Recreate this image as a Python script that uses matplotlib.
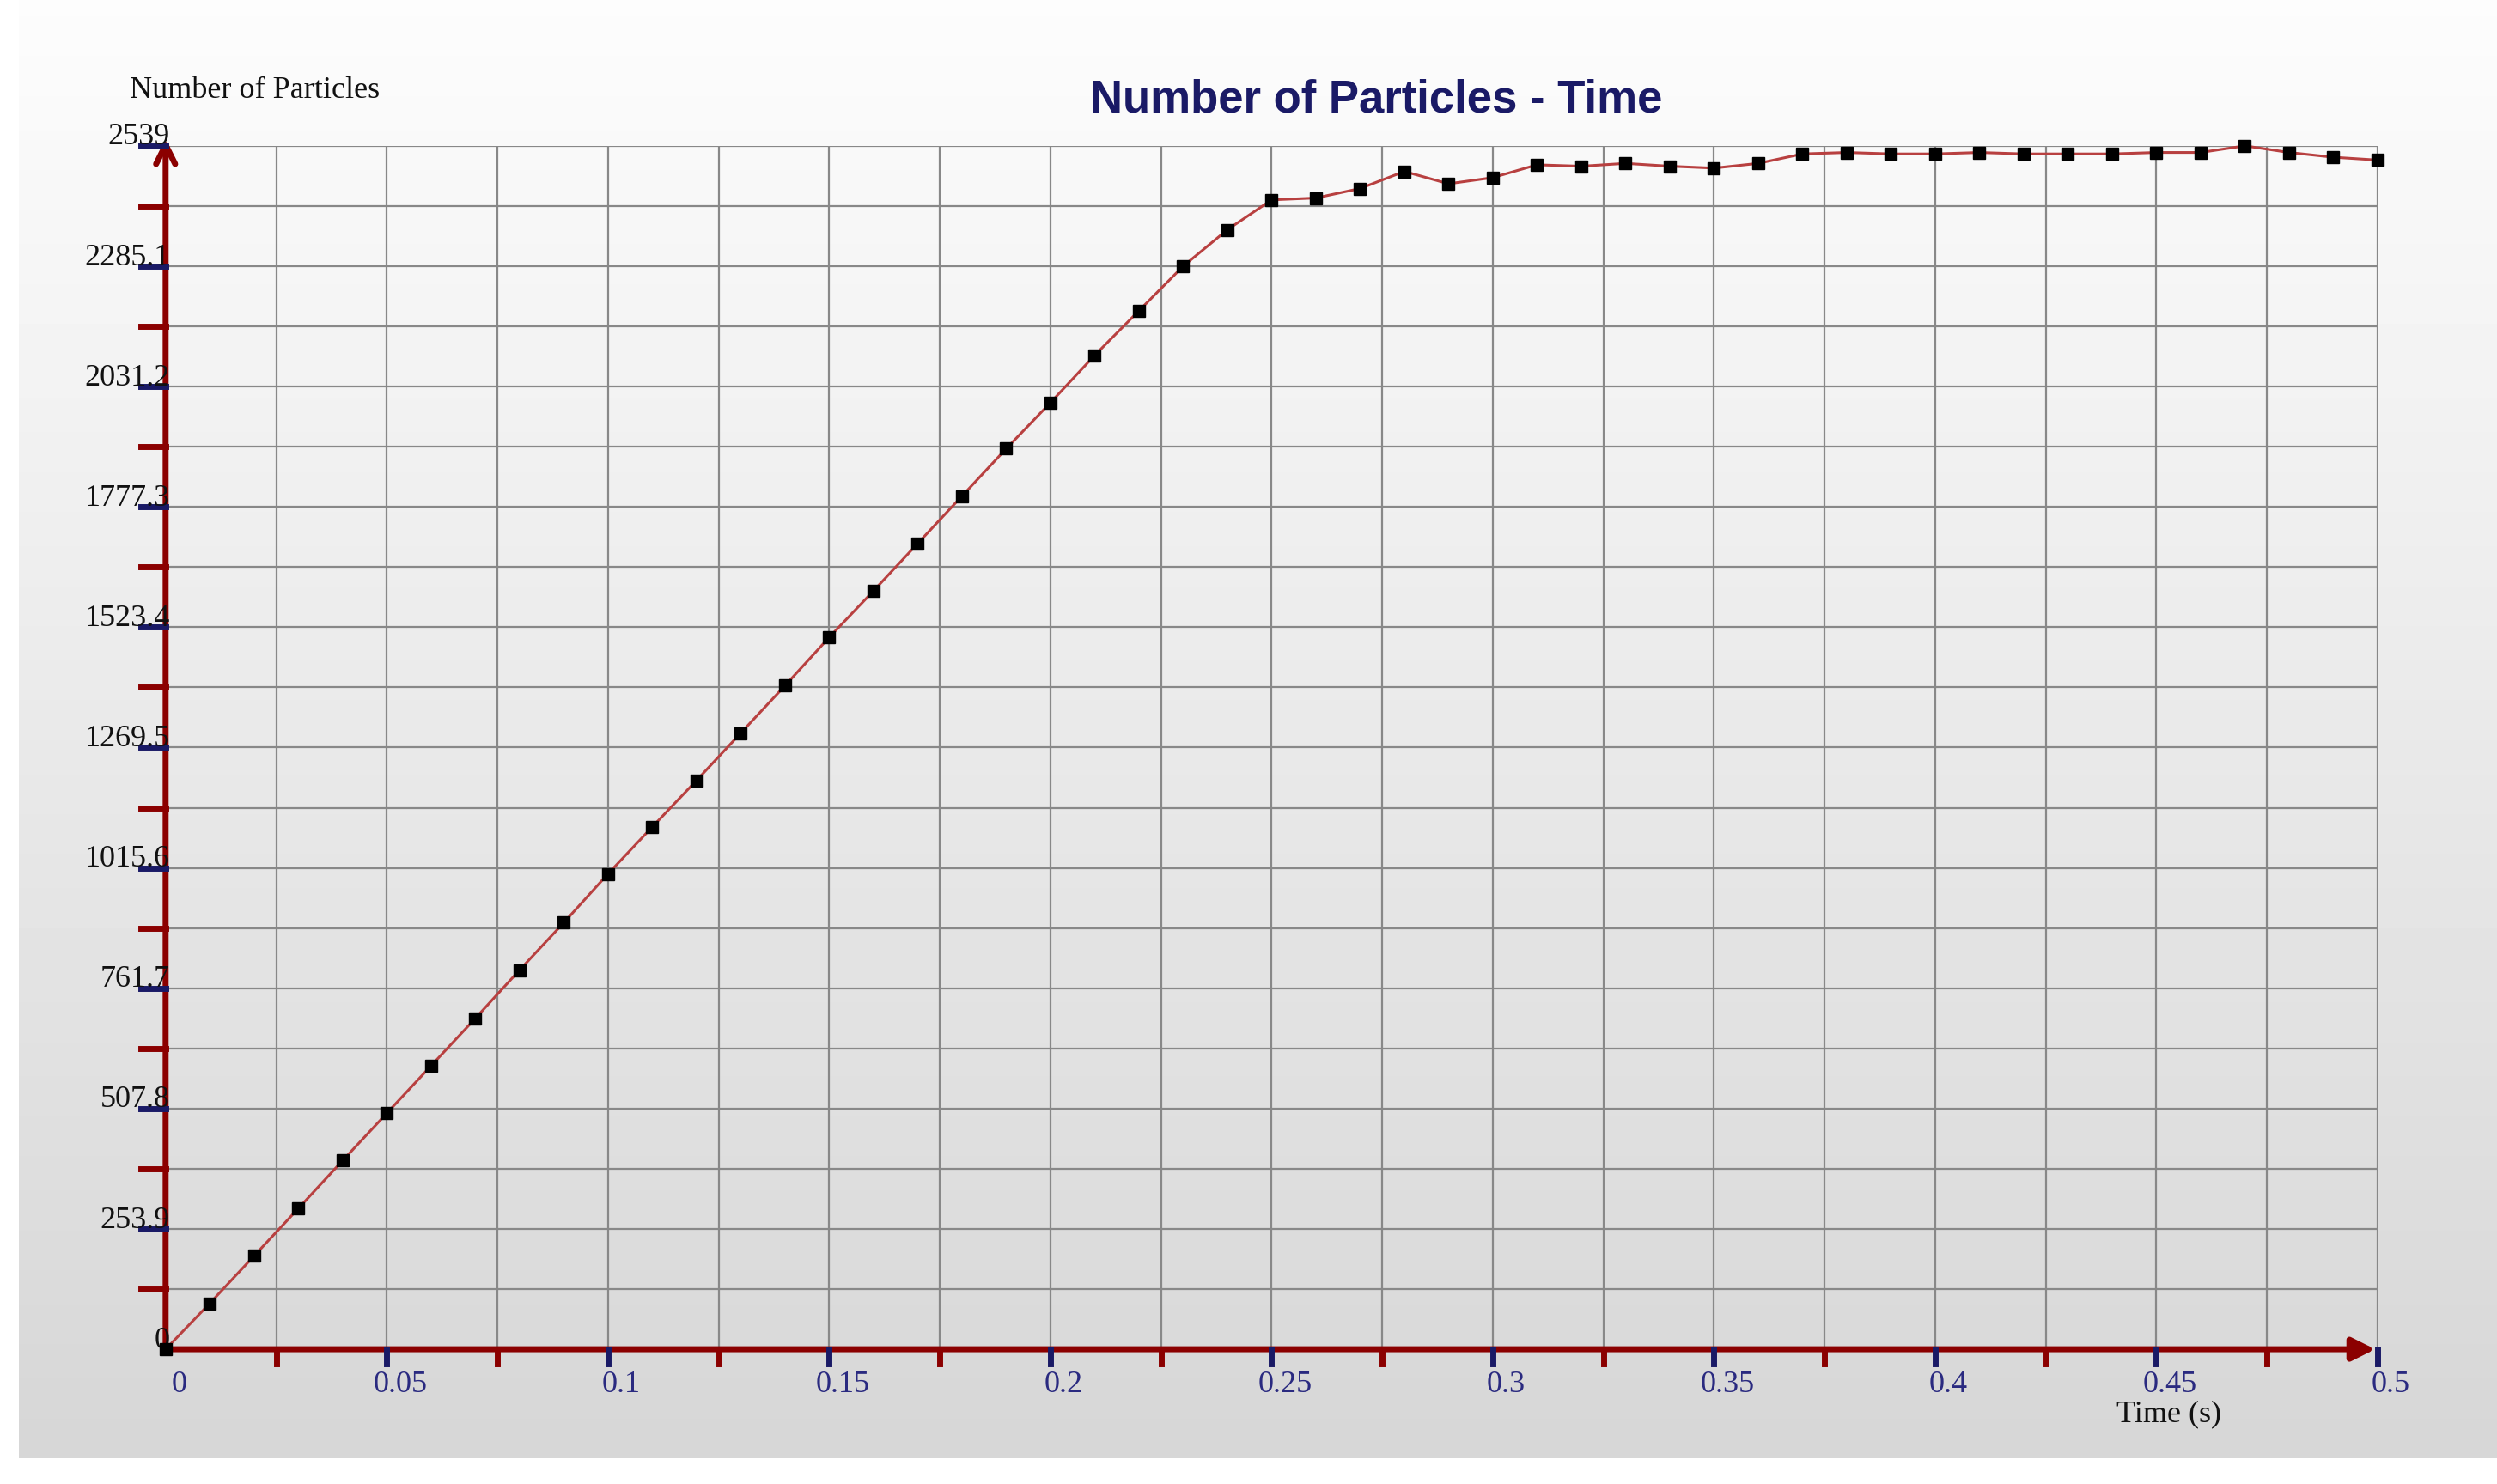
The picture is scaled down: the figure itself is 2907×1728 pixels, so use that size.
import numpy as np
import matplotlib.pyplot as plt

# data
time_s = [i / 100 for i in range(51)]
particles = [0, 97, 197, 297, 398, 498, 598, 698, 800, 900,
             1003, 1102, 1200, 1300, 1400, 1502, 1600, 1700, 1800, 1900,
             1997, 2097, 2191, 2285, 2362, 2425, 2429, 2449, 2485, 2459,
             2472, 2499, 2496, 2502, 2496, 2492, 2502, 2522, 2525, 2522,
             2522, 2525, 2522, 2522, 2522, 2525, 2525, 2539, 2525, 2515,
             2509]
y_ticks = [0, 253.9, 507.8, 761.7, 1015.6, 1269.5, 1523.4, 1777.3, 2031.2, 2285.1, 2539]
y_labels = ["0", "253.9", "507.8", "761.7", "1015.6", "1269.5", "1523.4",
            "1777.3", "2031.2", "2285.1", "2539"]
x_ticks = [0, 0.05, 0.1, 0.15, 0.2, 0.25, 0.3, 0.35, 0.4, 0.45, 0.5]
x_labels = ["0", "0.05", "0.1", "0.15", "0.2", "0.25", "0.3", "0.35", "0.4", "0.45", "0.5"]

W, H = 2907, 1728
fig = plt.figure(figsize=(W / 100, H / 100), dpi=100)
fig.patch.set_facecolor("white")

# gray gradient panel
bg = fig.add_axes([12 / 1568, 1 - 920 / 936, 1 - 12 / 1568, 920 / 936])
grad = np.linspace(0.99, 0.84, 256).reshape(-1, 1)
bg.imshow(grad, cmap="gray", vmin=0, vmax=1, aspect="auto")
bg.axis("off")

left, right = 104 / 1568, 1493 / 1568
bottom, top = 1 - 851 / 936, 1 - 92 / 936
ax = fig.add_axes([left, bottom, right - left, top - bottom])
ax.patch.set_alpha(0)
ax.set_xlim(0, 0.5)
ax.set_ylim(0, 2539)

dark_red = "#8b0000"
navy = "#1a1a66"
serif = ["Liberation Serif", "DejaVu Serif"]

# grid
for gx in np.arange(0.025, 0.5001, 0.025):
    ax.axvline(gx, color="#888888", lw=1.6, zorder=1)
for gy in np.arange(1, 21) * 2539 / 20:
    ax.axhline(gy, color="#888888", lw=1.6, zorder=1)

for s in ax.spines.values():
    s.set_visible(False)
ax.set_xticks([])
ax.set_yticks([])

# axes with arrows
ax.annotate("", xy=(0.0, 2560), xytext=(0, 0), xycoords="data",
            arrowprops=dict(arrowstyle="->", color=dark_red, lw=5, mutation_scale=40),
            annotation_clip=False, zorder=3)
ax.annotate("", xy=(0.5, 0), xytext=(0, 0),
            arrowprops=dict(arrowstyle="-|>", color=dark_red, lw=5, mutation_scale=40),
            annotation_clip=False, zorder=3)

# ticks
for i, gy in enumerate(np.arange(1, 21) * 2539 / 20):
    col = navy if i % 2 == 1 else dark_red
    ax.plot([-0.0055, 0], [gy, gy], color=col, lw=5, clip_on=False, zorder=3)
for i, gx in enumerate(np.arange(0.025, 0.5001, 0.025)):
    col = navy if i % 2 == 1 else dark_red
    ax.plot([gx, gx], [0, -30], color=col, lw=5, clip_on=False, zorder=3)

for v, lab in zip(y_ticks, y_labels):
    ax.text(0.001, v - 12, lab, ha="right", va="bottom", fontsize=26,
            family=serif, color="#111111", zorder=4)
for v, lab in zip(x_ticks, x_labels):
    ax.text(v + 0.003, -45, lab, ha="center", va="top", fontsize=26,
            family=serif, color="#2a2a80")

ax.plot(time_s, particles, color="#b84040", lw=2.2, marker="s", ms=9.5,
        mfc="black", mec="black", zorder=5, clip_on=False)

fig.text(864 / 1568, 1 - 63 / 936, "Number of Particles - Time", ha="center", va="center",
         fontsize=38, fontweight="bold", color=navy, family=["Liberation Sans", "DejaVu Sans"])
fig.text(160 / 1568, 1 - 57 / 936, "Number of Particles", ha="center", va="center",
         fontsize=26, family=serif, color="#111111")
fig.text(1362 / 1568, 1 - 892 / 936, "Time (s)", ha="center", va="center",
         fontsize=26, family=serif, color="#111111")

fig.savefig("out.png", dpi=100)
